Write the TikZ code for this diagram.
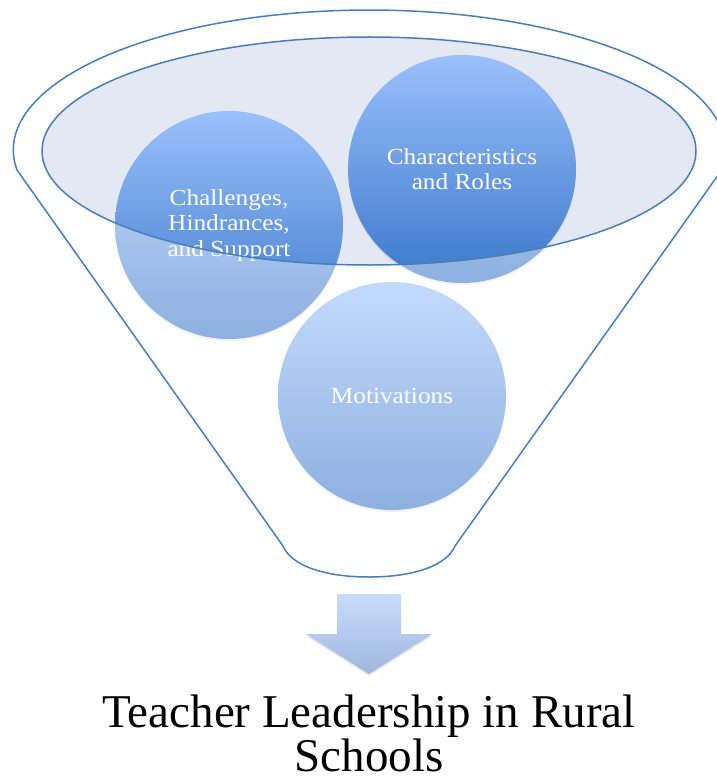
\documentclass[tikz,border=0pt]{standalone}
\usepackage{fontspec}
\setmainfont{Liberation Serif}
\newfontfamily\cam[FakeStretch=1.1]{Liberation Serif}
\usetikzlibrary{shadows}
\definecolor{edge}{RGB}{74,126,187}
\definecolor{ellfill}{RGB}{227,232,242}
\definecolor{ctop}{RGB}{154,192,252}
\definecolor{cbot}{RGB}{59,120,202}
\definecolor{atop}{RGB}{200,220,252}
\definecolor{abot}{RGB}{160,182,222}
\tikzset{
  ball/.style={circle, minimum size=228pt, inner sep=0pt, top color=ctop, bottom color=cbot,
    text=white, align=center, font=\cam\fontsize{23}{25.5}\selectfont,
    drop shadow={shadow xshift=0pt, shadow yshift=-2pt, opacity=0.18}},
  outl/.style={draw=edge, line width=1.5pt},
}
\begin{document}
\begin{tikzpicture}[x=1pt,y=-1pt]
\useasboundingbox (0,0) rectangle (716,778);
% inner ellipse fill
\fill[ellfill] (369,151) ellipse[x radius=327pt, y radius=114pt];
% circles
\node[ball] (chal) at (229,225) {Challenges,\\Hindrances,\\and Support};
\node[ball] (char) at (462,169) {Characteristics\\and Roles};
\node[ball] (moti) at (392,396) {Motivations};
% funnel body translucent overlay
\fill[white, opacity=0.42, even odd rule]
  (17,170) arc[start angle=188.2, end angle=-8.2, x radius=356pt, y radius=140pt]
  -- (455,546) .. controls (447,565) and (415,577) .. (369,577)
  .. controls (323,577) and (291,565) .. (283,546) -- cycle
  (369,151) ellipse[x radius=327pt, y radius=114pt];
% outlines
\draw[outl]
  (17,170) arc[start angle=188.2, end angle=-8.2, x radius=356pt, y radius=140pt]
  -- (455,546) .. controls (447,565) and (415,577) .. (369,577)
  .. controls (323,577) and (291,565) .. (283,546) -- cycle;
\draw[outl] (369,151) ellipse[x radius=327pt, y radius=114pt];
% arrow
\path[top color=atop, bottom color=abot,
  drop shadow={shadow xshift=0pt, shadow yshift=-2pt, opacity=0.2}]
  (337,594) -- (401,594) -- (401,634) -- (432,634) -- (369,674) -- (306,634) -- (337,634) -- cycle;
% title
\node[align=center, font=\fontsize{47}{44}\selectfont, anchor=base, inner sep=0pt, text depth=0pt] (title) at (369,771)
  {Teacher Leadership in Rural\\Schools};
\end{tikzpicture}
\end{document}
